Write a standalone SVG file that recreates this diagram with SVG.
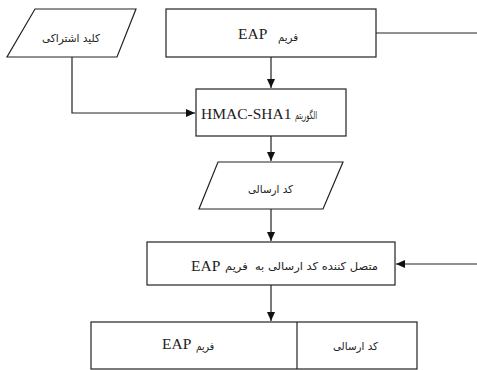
<svg xmlns="http://www.w3.org/2000/svg" width="477" height="370" viewBox="0 0 477 370">
  <defs>
    <marker id="arrow" markerWidth="10" markerHeight="8" refX="9" refY="4" orient="auto" markerUnits="userSpaceOnUse">
      <path d="M0,0 L9,4 L0,8 Z" fill="#111"/>
    </marker>
  </defs>
  <style>
    .shape { fill: #fff; stroke: #222; stroke-width: 1.2; }
    .line { fill: none; stroke: #222; stroke-width: 1.2; }
    .lat { font-family: "Liberation Serif", "Times New Roman", serif; font-size: 15.5px; fill: #222; }
    .ar { font-family: "DejaVu Sans", "Noto Sans", sans-serif; font-size: 11px; fill: #222; }
  </style>
  <rect width="477" height="370" fill="#fff"/>

  <g id="connectors">
    <path class="line" d="M72,57 V113 H195" marker-end="url(#arrow)"/>
    <path class="line" d="M376,33 H477"/>
    <path class="line" d="M271,57 V88" marker-end="url(#arrow)"/>
    <path class="line" d="M271,136 V161" marker-end="url(#arrow)"/>
    <path class="line" d="M271,209 V241" marker-end="url(#arrow)"/>
    <path class="line" d="M477,264 H396" marker-end="url(#arrow)"/>
    <path class="line" d="M271,285 V321" marker-end="url(#arrow)"/>
  </g>

  <g id="shared-key">
    <polygon class="shape" points="35,9 136,9 117,57 7,57"/>
    <text class="ar" x="42" y="42" textLength="58" lengthAdjust="spacingAndGlyphs">کلید اشتراکی</text>
  </g>

  <g id="eap-frame">
    <rect class="shape" x="166" y="9" width="210" height="48"/>
    <text class="lat" x="238" y="39">EAP</text>
    <text class="ar" x="278" y="41" textLength="20" lengthAdjust="spacingAndGlyphs">فریم</text>
  </g>

  <g id="hmac">
    <rect class="shape" x="196" y="89" width="150" height="47"/>
    <text class="lat" x="201" y="119">HMAC-SHA1</text>
    <text class="ar" x="295" y="119" textLength="22" lengthAdjust="spacingAndGlyphs">الگوریتم</text>
  </g>

  <g id="mac-code">
    <polygon class="shape" points="218,162 343,162 323,209 199,209"/>
    <text class="ar" x="248" y="193" textLength="45" lengthAdjust="spacingAndGlyphs">کد ارسالی</text>
  </g>

  <g id="attach">
    <rect class="shape" x="147" y="242" width="248" height="43"/>
    <text class="lat" x="191" y="271">EAP</text>
    <text class="ar" x="225" y="270" textLength="153" lengthAdjust="spacingAndGlyphs">متصل کننده کد ارسالی به&#160; فریم</text>
  </g>

  <g id="result">
    <rect class="shape" x="91" y="322" width="326" height="47"/>
    <line class="line" x1="297" y1="322" x2="297" y2="369"/>
    <text class="lat" x="162" y="349">EAP</text>
    <text class="ar" x="196" y="350" textLength="18" lengthAdjust="spacingAndGlyphs">فریم</text>
    <text class="ar" x="333" y="350" textLength="45" lengthAdjust="spacingAndGlyphs">کد ارسالی</text>
  </g>
</svg>
